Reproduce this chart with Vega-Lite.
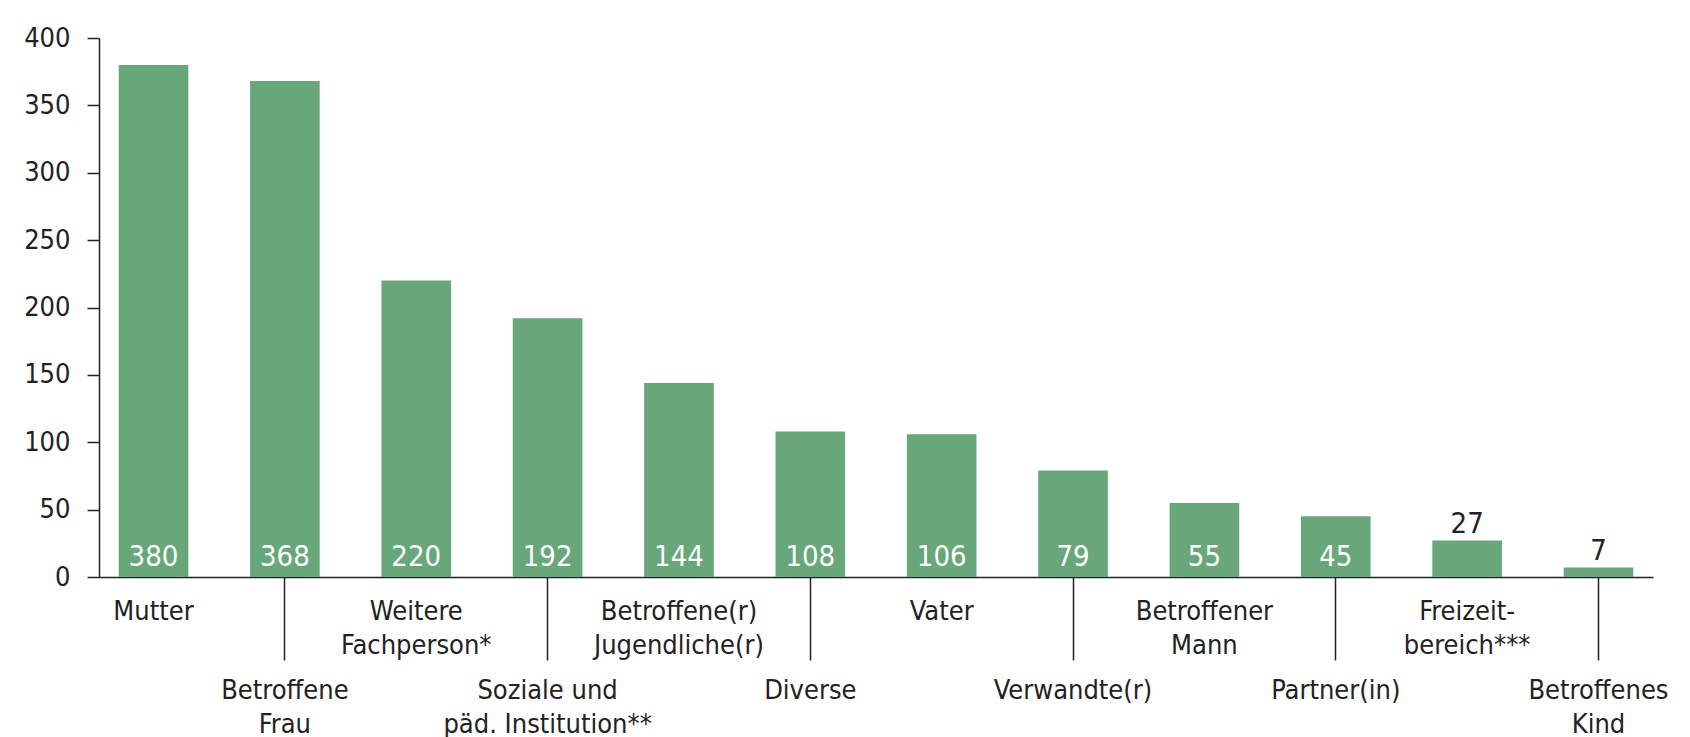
{
  "$schema": "https://vega.github.io/schema/vega-lite/v6.json",
  "width": 1554,
  "height": 539,
  "autosize": {"type": "none"},
  "padding": {"left": 99, "top": 38, "right": 37, "bottom": 160},
  "background": "white",
  "config": {
    "view": {"stroke": null},
    "font": "Liberation Sans Narrow, DejaVu Sans Condensed, sans-serif"
  },
  "data": {
    "values": [
      {"cat": "Mutter", "n": 380},
      {"cat": "Betroffene|Frau", "n": 368},
      {"cat": "Weitere|Fachperson*", "n": 220},
      {"cat": "Soziale und|päd. Institution**", "n": 192},
      {"cat": "Betroffene(r)|Jugendliche(r)", "n": 144},
      {"cat": "Diverse", "n": 108},
      {"cat": "Vater", "n": 106},
      {"cat": "Verwandte(r)", "n": 79},
      {"cat": "Betroffener|Mann", "n": 55},
      {"cat": "Partner(in)", "n": 45},
      {"cat": "Freizeit-|bereich***", "n": 27},
      {"cat": "Betroffenes|Kind", "n": 7}
    ]
  },
  "encoding": {
    "x": {
      "field": "cat",
      "type": "nominal",
      "sort": null,
      "scale": {"paddingInner": 0.47, "paddingOuter": 0.15},
      "axis": {
        "title": null,
        "labelExpr": "split(datum.value, '|')",
        "labelAngle": 0,
        "labelAlign": "center",
        "labelBaseline": "top",
        "labelFontSize": 27,
        "labelLineHeight": 34,
        "labelColor": "#222222",
        "labelOverlap": false,
        "labelLimit": 500,
        "domainColor": "#222222",
        "domainWidth": 1.5,
        "tickColor": "#222222",
        "tickWidth": 1.5,
        "tickSize": {
          "condition": {"test": "indexof(['Betroffene|Frau','Soziale und|päd. Institution**','Diverse','Verwandte(r)','Partner(in)','Betroffenes|Kind'], datum.value) >= 0", "value": 83},
          "value": 0
        },
        "labelPadding": {
          "condition": {"test": "indexof(['Betroffene|Frau','Soziale und|päd. Institution**','Diverse','Verwandte(r)','Partner(in)','Betroffenes|Kind'], datum.value) >= 0", "value": 17},
          "value": 21
        }
      }
    }
  },
  "layer": [
    {
      "mark": {"type": "bar", "color": "#68a77a"},
      "encoding": {
        "y": {
          "field": "n",
          "type": "quantitative",
          "scale": {"domain": [0, 400]},
          "axis": {
            "title": null,
            "values": [0, 50, 100, 150, 200, 250, 300, 350, 400],
            "grid": false,
            "labelFontSize": 27,
            "labelColor": "#222222",
            "labelPadding": 17,
            "tickSize": 12,
            "tickColor": "#222222",
            "tickWidth": 1.5,
            "domainColor": "#222222",
            "domainWidth": 1.5
          }
        }
      }
    },
    {
      "transform": [{"filter": "datum.n >= 40"}],
      "mark": {"type": "text", "color": "white", "baseline": "alphabetic", "dy": -11, "fontSize": 29},
      "encoding": {
        "y": {"datum": 0, "type": "quantitative"},
        "text": {"field": "n", "type": "quantitative"}
      }
    },
    {
      "transform": [{"filter": "datum.n < 40"}],
      "mark": {"type": "text", "color": "#222222", "baseline": "alphabetic", "dy": -8, "fontSize": 29},
      "encoding": {
        "y": {"field": "n", "type": "quantitative"},
        "text": {"field": "n", "type": "quantitative"}
      }
    }
  ]
}
